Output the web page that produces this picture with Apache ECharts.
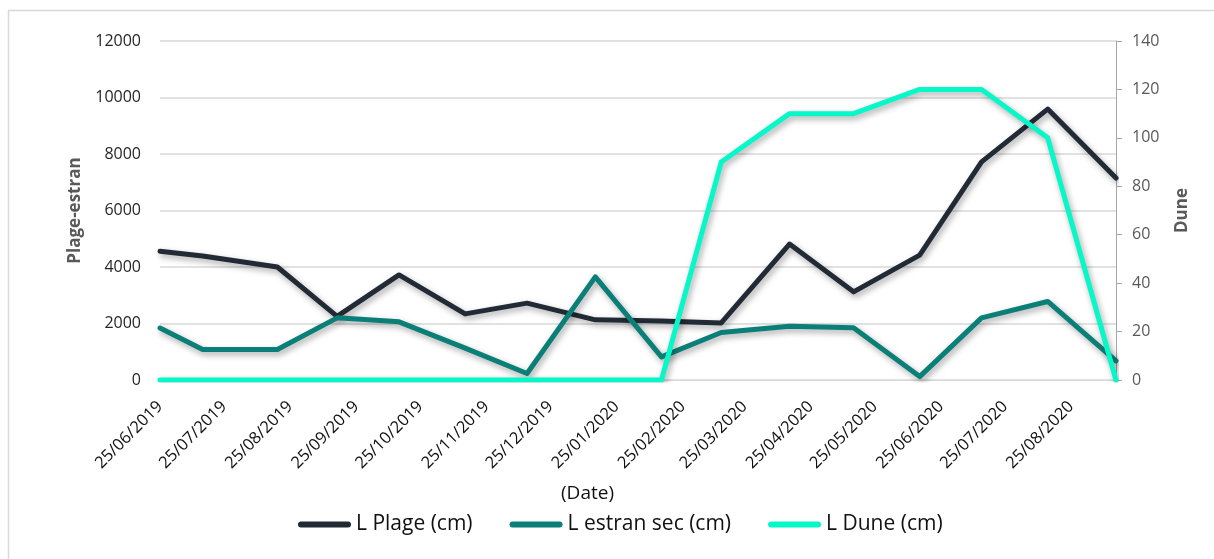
<!DOCTYPE html>
<html>
<head>
<meta charset="utf-8">
<title>L Plage / L estran sec / L Dune</title>
<script src="https://cdn.jsdelivr.net/npm/echarts@6/dist/echarts.min.js"></script>
<style>
  html, body { margin: 0; padding: 0; background: #ffffff; }
  #chart { width: 1214px; height: 559px; }
</style>
</head>
<body>
<div id="chart"></div>
<script>
// Survey dates (day/month/year as recorded)
const surveyDates = ['2019-06-25', '2019-07-15', '2019-08-19', '2019-09-16', '2019-10-15',
  '2019-11-15', '2019-12-14', '2020-01-15', '2020-02-15', '2020-03-14', '2020-04-15',
  '2020-05-15', '2020-06-15', '2020-07-14', '2020-08-14', '2020-09-15'];

// Widths, left axis (Plage-estran)
const lPlage = [4560, 4390, 4000, 2250, 3720, 2340, 2720, 2130, 2090, 2020, 4810, 3120, 4420, 7720, 9590, 7150];
const lEstranSec = [1840, 1080, 1080, 2200, 2060, 1130, 230, 3650, 820, 1680, 1900, 1850, 120, 2200, 2780, 680];
// Width, right axis (Dune)
const lDune = [0, 0, 0, 0, 0, 0, 0, 0, 0, 90, 110, 110, 120, 120, 100, 0];

// Monthly date labels along the bottom axis
const dateTickLabels = ['25/06/2019', '25/07/2019', '25/08/2019', '25/09/2019', '25/10/2019',
  '25/11/2019', '25/12/2019', '25/01/2020', '25/02/2020', '25/03/2020', '25/04/2020',
  '25/05/2020', '25/06/2020', '25/07/2020', '25/08/2020'];

const seriesNames = ['L Plage (cm)', 'L estran sec (cm)', 'L Dune (cm)'];
const seriesColors = ['#222a35', '#0a7f78', '#06f8c8'];

function isoToTime(s) {
  const p = s.split('-').map(Number);
  return new Date(p[0], p[1] - 1, p[2]).getTime();
}
function frToTime(s) {
  const p = s.split('/').map(Number);
  return new Date(p[2], p[1] - 1, p[0]).getTime();
}
function pad(n) { return (n < 10 ? '0' : '') + n; }
function fmtDate(t) {
  const d = new Date(t);
  return pad(d.getDate()) + '/' + pad(d.getMonth() + 1) + '/' + d.getFullYear();
}

const times = surveyDates.map(isoToTime);
const pairs = vals => vals.map((v, i) => [times[i], v]);

const FONT = '"Open Sans", "DejaVu Sans", sans-serif';
const lineShadow = {
  shadowColor: 'rgba(0, 0, 0, 0.35)',
  shadowBlur: 6,
  shadowOffsetX: 2,
  shadowOffsetY: 3
};

function makeSeries(idx, values, yAxisIndex) {
  return {
    name: seriesNames[idx],
    type: 'line',
    yAxisIndex: yAxisIndex,
    data: pairs(values),
    showSymbol: false,
    symbol: 'none',
    color: seriesColors[idx],
    lineStyle: Object.assign({ width: 5, color: seriesColors[idx], join: 'round', cap: 'round' }, lineShadow),
    emphasis: { disabled: true },
    animation: false
  };
}

const chart = echarts.init(document.getElementById('chart'), null, { renderer: 'canvas' });

chart.setOption({
  backgroundColor: '#ffffff',
  animation: false,
  textStyle: { fontFamily: FONT },
  grid: { left: 160, right: 98, top: 41, bottom: 179, containLabel: false },
  legend: {
    data: seriesNames,
    left: 298,
    top: 514,
    padding: 0,
    itemWidth: 53,
    itemHeight: 6,
    itemGap: 37,
    icon: 'path://M3,0H50A3,3,0,0,1,50,6H3A3,3,0,0,1,3,0Z',
    textStyle: { fontFamily: FONT, fontSize: 21, color: '#111111' }
  },
  xAxis: {
    // dates on a linear day scale, labelled on the 25th of each month
    type: 'value',
    min: times[0],
    max: times[times.length - 1],
    axisLine: { show: true, onZero: false, lineStyle: { color: '#d9d9d9', width: 1 } },
    axisTick: { show: false },
    splitLine: { show: false },
    axisLabel: {
      customValues: dateTickLabels.map(frToTime),
      formatter: v => fmtDate(v),
      rotate: 45,
      margin: 24,
      fontFamily: FONT,
      fontSize: 16.5,
      color: '#111111',
      hideOverlap: false
    }
  },
  yAxis: [
    {
      type: 'value',
      min: 0,
      max: 12000,
      interval: 2000,
      name: 'Plage-estran',
      nameLocation: 'middle',
      nameRotate: 90,
      nameGap: 76,
      nameTextStyle: { fontFamily: FONT, fontSize: 17, fontWeight: 'bold', color: '#595959' },
      axisLine: { show: false },
      axisTick: { show: false },
      axisLabel: { margin: 19, fontFamily: FONT, fontSize: 16, color: '#262626', formatter: v => String(v) },
      splitLine: { show: true, lineStyle: { color: '#d9d9d9', width: 1.5 } }
    },
    {
      type: 'value',
      min: 0,
      max: 140,
      interval: 20,
      position: 'right',
      name: 'Dune',
      nameLocation: 'middle',
      nameRotate: 90,
      nameGap: 58,
      nameTextStyle: { fontFamily: FONT, fontSize: 17, fontWeight: 'bold', color: '#595959' },
      axisLine: { show: true, lineStyle: { color: '#a6a6a6', width: 1 } },
      axisTick: { show: true, inside: false, length: 6, lineStyle: { color: '#a6a6a6' } },
      axisLabel: { margin: 16, fontFamily: FONT, fontSize: 16, color: '#595959' },
      splitLine: { show: false }
    }
  ],
  graphic: [
    {
      type: 'rect',
      silent: true,
      shape: { x: 8.5, y: 10.5, width: 1300, height: 700 },
      style: { fill: 'none', stroke: '#d9d9d9', lineWidth: 1.5 }
    },
    {
      type: 'text',
      silent: true,
      left: 561,
      top: 484,
      style: { text: '(Date)', fontFamily: FONT, fontSize: 19, fill: '#111111' }
    }
  ],
  series: [
    makeSeries(0, lPlage, 0),
    makeSeries(1, lEstranSec, 0),
    makeSeries(2, lDune, 1)
  ]
});
</script>
</body>
</html>
